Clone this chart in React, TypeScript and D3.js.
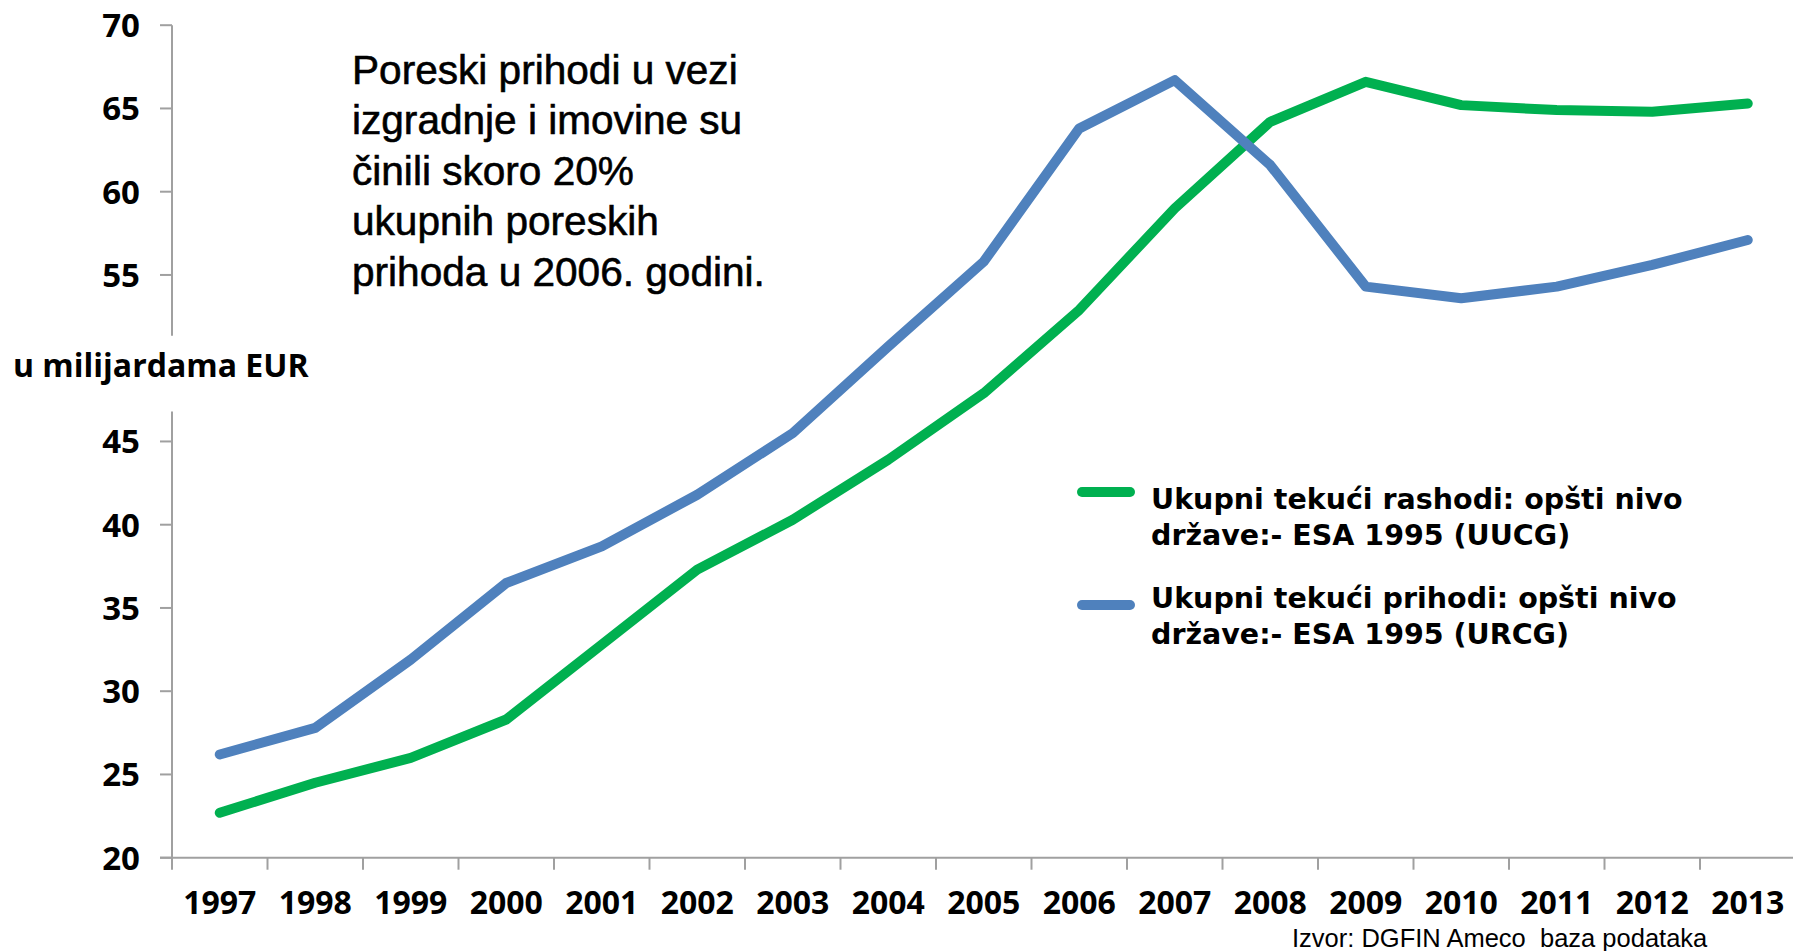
import React from "react";
import * as d3 from "d3";

// values in billions of EUR
const years = [
  "1997", "1998", "1999", "2000", "2001", "2002", "2003", "2004", "2005",
  "2006", "2007", "2008", "2009", "2010", "2011", "2012", "2013",
];
const rashodi = [22.7, 24.5, 26.0, 28.3, 32.8, 37.3, 40.3, 43.9, 47.9, 52.9, 59.0, 64.2, 66.6, 65.2, 64.9, 64.8, 65.3];
const prihodi = [26.2, 27.8, 31.9, 36.5, 38.7, 41.8, 45.5, 50.7, 55.8, 63.8, 66.7, 61.6, 54.3, 53.6, 54.3, 55.6, 57.1];

const yTicks = [20, 25, 30, 35, 40, 45, 55, 60, 65, 70];
const axisBreak = [46.8, 51.35]; // gap in the y axis where the unit label sits

const legendRashodi = ["Ukupni tekući rashodi: opšti nivo", "države:- ESA 1995 (UUCG)"];
const legendPrihodi = ["Ukupni tekući prihodi: opšti nivo", "države:- ESA 1995 (URCG)"];
const note = [
  "Poreski prihodi u vezi",
  "izgradnje i imovine su",
  "činili skoro 20%",
  "ukupnih poreskih",
  "prihoda u 2006. godini.",
];
const unitLabel = "u milijardama EUR";
const source = "Izvor: DGFIN Ameco  baza podataka";

const W = 1793;
const H = 951;
const GREEN = "#00B050";
const BLUE = "#4F81BD";
const AXIS = "#a0a0a0";

export default function App() {
  const left = 172;
  const bw = 95.5;
  const x = d3.scaleBand().domain(years).range([left, left + years.length * bw]);
  const y = d3.scaleLinear().domain([20, 70]).range([857.7, 25.2]);
  const cx = (d: string) => (x(d) as number) + x.bandwidth() / 2;

  const line = d3
    .line<number>()
    .x((_, i) => cx(years[i]))
    .y((v) => y(v));

  const bold = "'Open Sans', sans-serif";

  return (
    <svg
      width={W}
      height={H}
      style={{ position: "absolute", left: 0, top: 0, display: "block", background: "#fff" }}
    >
      {/* y axis, broken */}
      <line x1={left} x2={left} y1={y(70)} y2={y(axisBreak[1])} stroke={AXIS} strokeWidth={2} />
      <line x1={left} x2={left} y1={y(axisBreak[0])} y2={y(20)} stroke={AXIS} strokeWidth={2} />
      {yTicks.map((t) => (
        <g key={t}>
          <line x1={left - 12} x2={left} y1={y(t)} y2={y(t)} stroke={AXIS} strokeWidth={2} />
          <text
            x={140}
            y={y(t) + 12}
            textAnchor="end"
            fontFamily={bold}
            fontWeight={700}
            fontSize={33}
          >
            {t}
          </text>
        </g>
      ))}
      <text x={13} y={377} fontFamily={bold} fontWeight={700} fontSize={32}>
        {unitLabel}
      </text>

      {/* x axis */}
      <line x1={left - 12} x2={W} y1={y(20)} y2={y(20)} stroke={AXIS} strokeWidth={2} />
      {years.map((d) => (
        <g key={d}>
          <line
            x1={x(d) as number}
            x2={x(d) as number}
            y1={y(20)}
            y2={y(20) + 12}
            stroke={AXIS}
            strokeWidth={2}
          />
          <text x={cx(d)} y={914} textAnchor="middle" fontFamily={bold} fontWeight={700} fontSize={32}>
            {d}
          </text>
        </g>
      ))}

      {/* series */}
      <path d={line(rashodi) || ""} fill="none" stroke={GREEN} strokeWidth={10} strokeLinejoin="round" strokeLinecap="round" />
      <path d={line(prihodi) || ""} fill="none" stroke={BLUE} strokeWidth={10} strokeLinejoin="round" strokeLinecap="round" />

      {/* note */}
      {note.map((s, i) => (
        <text
          key={i}
          x={352}
          y={84 + i * 50.4}
          fontFamily="'Liberation Sans', Arial, sans-serif"
          fontSize={40.6}
          stroke="#000"
          strokeWidth={0.6}
        >
          {s}
        </text>
      ))}

      {/* legend */}
      <line x1={1082} x2={1130} y1={492} y2={492} stroke={GREEN} strokeWidth={10} strokeLinecap="round" />
      <line x1={1082} x2={1130} y1={605} y2={605} stroke={BLUE} strokeWidth={10} strokeLinecap="round" />
      {legendRashodi.map((s, i) => (
        <text key={"r" + i} x={1151} y={509 + i * 36} fontFamily="'DejaVu Sans', sans-serif" fontWeight={700} fontSize={28.5}>
          {s}
        </text>
      ))}
      {legendPrihodi.map((s, i) => (
        <text key={"p" + i} x={1151} y={608 + i * 36} fontFamily="'DejaVu Sans', sans-serif" fontWeight={700} fontSize={28.5}>
          {s}
        </text>
      ))}

      <text
        x={1292}
        y={947}
        fontFamily="'Liberation Sans', Arial, sans-serif"
        fontSize={25.5}
        style={{ whiteSpace: "pre" }}
      >
        {source}
      </text>
    </svg>
  );
}
